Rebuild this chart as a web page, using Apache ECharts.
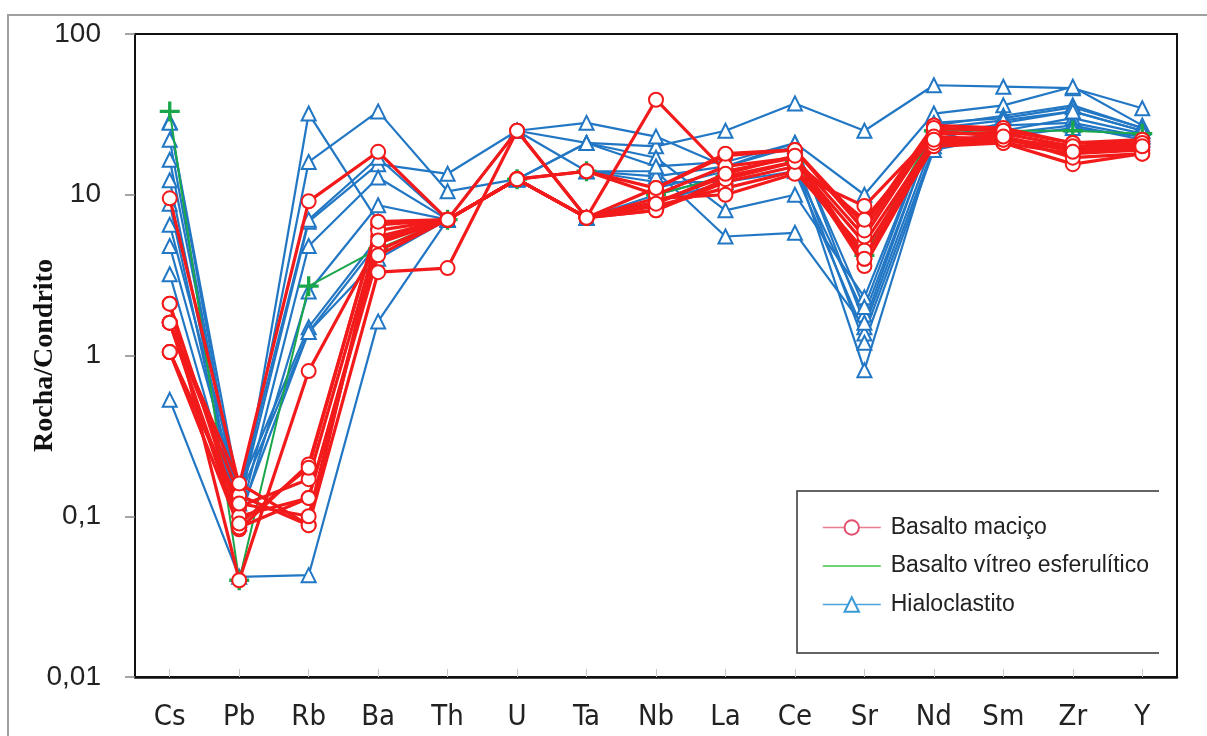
<!DOCTYPE html>
<html>
<head>
<meta charset="utf-8">
<script src="https://cdn.jsdelivr.net/npm/echarts@6/dist/echarts.min.js"></script>
<style>
  html, body { margin: 0; padding: 0; background: #fff; }
  #chart { width: 1207px; height: 736px; }
</style>
</head>
<body>
<div id="chart"></div>
<script>
// Elements of the spider diagram, normalised to chondrite
const elements = ['Cs', 'Pb', 'Rb', 'Ba', 'Th', 'U', 'Ta', 'Nb', 'La', 'Ce', 'Sr', 'Nd', 'Sm', 'Zr', 'Y'];

// Y axis decades (log scale)
const yTicks = [0.01, 0.1, 1, 10, 100];

// Basalto maciço samples (Cs ... Y)
const basaltoMacico = [
  [9.5, 0.155, 9.1, 18.5, 7, 12.5, 14, 11, 17.5, 19, 6.5, 27, 26, 21, 21],
  [2.1, 0.04, 0.8, 5.0, 7, 12.5, 7.2, 9, 13, 16, 5, 22, 22, 19, 20],
  [1.6, 0.135, 0.088, 3.3, 3.5, 25, 7.2, 39, 14, 17, 3.6, 21, 21, 15.5, 18],
  [1.6, 0.083, 0.21, 6.5, 7, 25, 7.2, 8, 12, 15, 4, 20, 21, 18, 19],
  [1.05, 0.115, 0.17, 5.5, 7, 12.5, 7.2, 8.5, 11, 14, 4.5, 21, 22, 19, 19],
  [1.05, 0.085, 0.13, 4.5, 7, 12.5, 7.2, 9.5, 10, 13.5, 8.5, 24, 24, 20, 20],
  [1.6, 0.16, 0.088, 6.0, 7, 12.5, 14, 10, 15, 17, 5.5, 25, 23, 17, 18],
  [2.1, 0.1, 0.13, 4.2, 7, 12.5, 7.2, 11, 18, 19, 6, 26, 25, 21, 22],
  [1.6, 0.09, 0.2, 6.8, 7, 12.5, 7.2, 8, 12.5, 16, 7, 23, 22, 20, 21],
  [1.05, 0.12, 0.1, 5.2, 7, 12.5, 7.2, 8.8, 13.5, 17.5, 4, 22, 23, 18.5, 20]
];

// Basalto vítreo esferulítico sample
const basaltoVitreo = [
  [33, 0.04, 2.7, 4.6, 7, 12.5, 14, 10, 13, 16, 4.2, 25, 25, 25, 24]
];

// Hialoclastito samples
const hialoclastito = [
  [28.5, 0.11, 16, 33, 10.5, 12.5, 21, 20, 25, 37, 25, 48, 47, 46, 34.5],
  [22, 0.1, 32, 6.8, 7, 25, 28, 23, 15, 21, 10, 32, 36, 47, 27],
  [16.5, 0.12, 6.8, 15.5, 13.5, 25, 21, 17, 8, 10, 2.3, 27, 31, 36, 26],
  [12.3, 0.095, 4.8, 12.8, 7, 12.5, 14, 14, 5.5, 5.8, 1.5, 22, 28, 33, 25],
  [8.8, 0.09, 2.5, 8.6, 7, 12.5, 14, 12, 12, 14, 1.37, 20, 25, 30, 24],
  [6.5, 0.15, 1.5, 5.4, 7, 12.5, 7.2, 9, 12, 15, 1.8, 25, 27, 28, 23],
  [4.8, 0.13, 1.4, 5, 7, 12.5, 7.2, 10, 13, 16, 0.81, 21, 24, 27, 22],
  [0.53, 0.042, 0.043, 1.63, 7, 12.5, 7.2, 11, 14, 17, 1.2, 19, 23, 26, 23],
  [3.2, 0.1, 1.4, 4, 7, 25, 14, 13, 15, 20, 2.0, 28, 30, 35, 26],
  [28, 0.14, 7, 17, 7, 12.5, 21, 15, 16, 21, 1.6, 26, 29, 33, 25]
];

const NAME_MACICO = 'Basalto maciço';
const NAME_VITREO = 'Basalto vítreo esferulítico';
const NAME_HIALO = 'Hialoclastito';

const RED = '#f21a1a';
const GREEN = '#1aa64a';
const BLUE = '#2277c4';

const PLUS = 'path://M5,0 L7,0 L7,5 L12,5 L12,7 L7,7 L7,12 L5,12 L5,7 L0,7 L0,5 L5,5 Z';

function sampleSeries(rows, name, style) {
  return rows.map(row => Object.assign({
    type: 'line',
    name: name,
    data: row,
    animation: false,
    z: style.z
  }, style.opts));
}

const series = []
  .concat(sampleSeries(hialoclastito, NAME_HIALO, {
    z: 2,
    opts: {
      symbol: 'emptyTriangle', symbolSize: 14,
      lineStyle: { color: BLUE, width: 2.2 },
      itemStyle: { color: BLUE, borderWidth: 2 }
    }
  }))
  .concat(sampleSeries(basaltoVitreo, NAME_VITREO, {
    z: 3,
    opts: {
      symbol: PLUS, symbolSize: 20,
      lineStyle: { color: GREEN, width: 2 },
      itemStyle: { color: GREEN }
    }
  }))
  .concat(sampleSeries(basaltoMacico, NAME_MACICO, {
    z: 4,
    opts: {
      symbol: 'emptyCircle', symbolSize: 14,
      lineStyle: { color: RED, width: 3.2 },
      itemStyle: { color: RED, borderWidth: 2.5 }
    }
  }));

const chart = echarts.init(document.getElementById('chart'), null, { renderer: 'canvas' });

chart.setOption({
  backgroundColor: '#fff',
  animation: false,
  grid: {
    left: 135, right: 30, top: 34, bottom: 59,
    show: true, borderColor: '#111', borderWidth: 2, backgroundColor: 'transparent'
  },
  xAxis: {
    type: 'category',
    data: elements,
    boundaryGap: true,
    axisLine: { show: true, lineStyle: { color: '#111', width: 2.5 } },
    axisTick: { show: true, inside: true, alignWithLabel: true, length: 8, lineStyle: { color: '#c8c8c8' } },
    axisLabel: {
      margin: 26,
      fontSize: 29,
      color: '#222',
      fontFamily: "'Liberation Sans Narrow', 'Arial Narrow', 'DejaVu Sans Condensed', 'Liberation Sans', sans-serif"
    },
    splitLine: { show: false }
  },
  yAxis: {
    type: 'log',
    logBase: 10,
    min: yTicks[0],
    max: yTicks[yTicks.length - 1],
    name: 'Rocha/Condrito',
    nameLocation: 'middle',
    nameMoveOverlap: false,
    nameGap: 76,
    nameRotate: 90,
    nameTextStyle: {
      fontFamily: "'Liberation Serif', 'Times New Roman', serif",
      fontWeight: 'bold',
      fontSize: 28,
      color: '#111'
    },
    axisLine: { show: true, lineStyle: { color: '#111', width: 2 } },
    axisTick: { show: true, inside: false, length: 10, lineStyle: { color: '#888', width: 1.5 } },
    axisLabel: {
      margin: 34,
      fontSize: 28,
      color: '#222',
      fontFamily: "'Liberation Sans', Arial, sans-serif",
      formatter: v => String(v).replace('.', ',')
    },
    splitLine: { show: false }
  },
  legend: {
    orient: 'vertical',
    left: 817,
    top: 511,
    itemWidth: 58,
    itemHeight: 18,
    itemGap: 15.5,
    textStyle: {
      fontSize: 23,
      color: '#222',
      fontFamily: "'Liberation Sans', Arial, sans-serif",
      padding: [0, 0, 0, 5]
    },
    data: [
      { name: NAME_MACICO, itemStyle: { color: '#e2506e' }, lineStyle: { color: '#ea7d92', width: 1.5 } },
      { name: NAME_VITREO, itemStyle: { opacity: 0 }, lineStyle: { color: '#44c244', width: 1.5 } },
      { name: NAME_HIALO, itemStyle: { color: '#3a9ad8' }, lineStyle: { color: '#4aa3dd', width: 1.5 } }
    ]
  },
  graphic: [
    {
      // outer frame
      type: 'rect',
      shape: { x: 8, y: 15, width: 1220, height: 740 },
      style: { fill: 'none', stroke: '#a0a0a0', lineWidth: 2 },
      silent: true, z: -1
    },
    {
      // legend frame, open on the right side
      type: 'polyline',
      shape: { points: [[1159, 491], [797, 491], [797, 653], [1159, 653]] },
      style: { fill: 'none', stroke: '#333', lineWidth: 1.5 },
      silent: true, z: 10
    }
  ],
  series: series
});
</script>
</body>
</html>
